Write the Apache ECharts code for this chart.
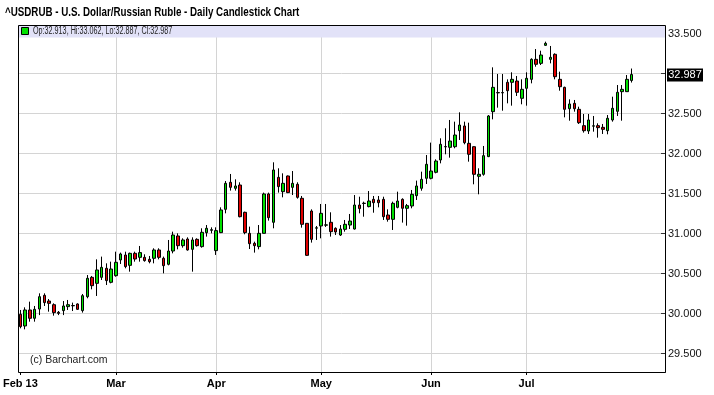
<!DOCTYPE html>
<html><head><meta charset="utf-8">
<script src="https://cdn.jsdelivr.net/npm/echarts@6/dist/echarts.min.js"></script>
<style>html,body{margin:0;padding:0;background:#fff}#c{width:714px;height:395px}</style>
</head><body><div id="c"></div>
<script>
const titleText = '^USDRUB - U.S. Dollar/Russian Ruble - Daily Candlestick Chart';
const monthLabels = ['Feb 13','Mar','Apr','May','Jun','Jul'];
const yTickValues = [29.5,30,30.5,31,31.5,32,32.5,33,33.5];

const openVals = [29.99,29.844,30.044,29.94,30.056,30.227,30.156,30.11,30.015,30.036,
30.086,30.096,30.119,30.036,30.21,30.452,30.377,30.452,30.565,30.39,
30.473,30.669,30.731,30.602,30.752,30.702,30.702,30.677,30.69,30.794,
30.69,30.615,30.781,30.969,30.848,30.931,30.802,30.927,30.836,31.01,
31.04,30.786,31.011,31.302,31.64,31.565,31.606,31.265,31.002,30.877,
30.836,31.002,31.494,31.14,31.702,31.523,31.719,31.577,31.615,31.44,
31.127,31.281,31.067,31.094,31.104,31.14,31.065,30.981,31.052,31.106,
31.056,31.356,31.375,31.336,31.427,31.419,31.427,31.231,31.177,31.327,
31.427,31.315,31.344,31.473,31.565,31.69,31.69,31.765,31.919,32.083,
32.077,32.085,32.285,32.344,32.127,32.085,31.715,31.74,31.961,32.523,
32.758,32.758,32.89,32.89,32.906,32.69,32.815,32.927,33.177,33.127,
33.352,33.177,33.24,32.927,32.827,32.56,32.627,32.552,32.348,32.281,
32.342,32.348,32.327,32.285,32.419,32.527,32.773,32.773,32.913];
const closeVals = [29.836,30.044,29.94,30.052,30.21,30.136,30.127,30.011,30.002,30.094,
30.11,30.1,30.052,30.223,30.44,30.348,30.544,30.577,30.411,30.556,
30.64,30.744,30.586,30.752,30.681,30.761,30.661,30.648,30.794,30.702,
30.598,30.781,30.981,30.848,30.919,30.794,30.919,30.848,31.015,31.065,
31.048,31.036,31.294,31.627,31.577,31.594,31.21,31.011,30.873,30.848,
31.002,31.494,31.198,31.794,31.586,31.627,31.511,31.627,31.452,31.115,
30.727,30.927,31.071,31.252,31.108,31.023,31.019,31.056,31.115,31.156,
31.356,31.311,31.379,31.406,31.385,31.385,31.21,31.177,31.377,31.406,
31.315,31.348,31.49,31.594,31.677,31.865,31.781,31.906,32.115,32.087,
32.156,32.231,32.356,32.135,31.99,31.74,31.74,31.973,32.469,32.827,
32.762,32.762,32.785,32.927,32.765,32.802,32.94,33.177,33.115,33.231,
33.377,33.202,32.96,32.835,32.552,32.619,32.56,32.385,32.285,32.419,
32.346,32.323,32.302,32.44,32.565,32.765,32.802,32.927,32.987];
const lowVals = [29.815,29.802,29.898,29.898,29.98,30.094,30.023,29.973,29.98,29.98,
30.044,30.031,30.044,30.011,30.19,30.302,30.219,30.419,30.356,30.377,
30.46,30.619,30.565,30.523,30.648,30.648,30.648,30.627,30.627,30.677,
30.502,30.602,30.752,30.802,30.823,30.786,30.523,30.836,30.823,30.961,
31.002,30.732,31.005,31.252,31.536,31.536,31.202,30.99,30.806,30.761,
30.802,31.0,31.161,31.065,31.511,31.452,31.505,31.481,31.436,31.073,
30.72,30.886,30.919,30.94,31.082,30.961,30.981,30.969,31.023,31.056,
31.05,31.252,31.21,31.327,31.26,31.327,31.169,31.148,31.044,31.315,
31.136,31.098,31.315,31.419,31.535,31.619,31.677,31.752,31.877,31.99,
31.948,32.065,32.169,32.115,31.898,31.615,31.49,31.723,31.955,32.427,
32.573,32.535,32.627,32.598,32.719,32.615,32.598,32.877,33.085,33.106,
33.344,33.127,32.927,32.785,32.452,32.41,32.523,32.369,32.261,32.244,
32.273,32.198,32.244,32.24,32.398,32.469,32.41,32.77,32.887];
const highVals = [30.044,30.077,30.148,30.094,30.252,30.252,30.181,30.127,30.031,30.156,
30.169,30.136,30.127,30.244,30.481,30.469,30.677,30.711,30.627,30.648,
30.773,30.761,30.773,30.761,30.773,30.844,30.74,30.719,30.815,30.815,
30.711,30.919,31.023,31.002,30.94,30.952,30.952,30.94,31.065,31.106,
31.077,31.077,31.327,31.656,31.744,31.677,31.64,31.273,31.086,30.898,
31.106,31.511,31.511,31.89,31.815,31.752,31.725,31.781,31.64,31.469,
31.13,31.302,31.094,31.369,31.369,31.265,31.077,31.106,31.169,31.244,
31.481,31.46,31.398,31.531,31.469,31.469,31.46,31.302,31.398,31.523,
31.44,31.369,31.544,31.661,31.773,31.981,32.136,31.927,32.19,32.315,
32.419,32.398,32.515,32.398,32.385,32.09,31.815,32.094,32.481,33.077,
32.994,32.994,32.927,33.015,32.969,32.927,33.015,33.19,33.306,33.285,
33.398,33.344,33.252,33.023,32.835,32.677,32.669,32.585,32.494,32.494,
32.469,32.377,32.369,32.481,32.71,32.856,32.856,32.981,33.062];

// trading days (weekdays) Feb 1 - Jul 31 2013
const categories = [];
for (let d = new Date(Date.UTC(2013,1,1)); d <= new Date(Date.UTC(2013,6,31)); d.setUTCDate(d.getUTCDate()+1)) {
  const w = d.getUTCDay();
  if (w !== 0 && w !== 6) categories.push(d.toISOString().slice(0,10));
}
const axisCats = categories.slice();
for (let k = 1; k <= 136 - categories.length; k++) axisCats.push('pad' + k);

const monthStart = {};
let mi = 0;
categories.forEach((c, i) => {
  const m = c.slice(0,7);
  if (i === 0 || m !== categories[i-1].slice(0,7)) { monthStart[i] = monthLabels[mi++]; }
});
const isMonth = (i) => monthStart[i] !== undefined;

const seriesData = categories.map((c, i) => [openVals[i], closeVals[i], lowVals[i], highVals[i]]);

const FONT = "'Liberation Sans',Arial,sans-serif";
const L = 18, T = 25, W = 647, H = 347;
const px = 80; // px per unit
const yMin = 29.5 - (T + H - 33.5 - 320) / px;
const yMax = 33.5 + (33.5 - T) / px;

const chart = echarts.init(document.getElementById('c'));
chart.setOption({
  animation: false,
  backgroundColor: '#fff',
  grid: [
    {left: L, top: T, width: W, height: H, show: false},
    {left: L, top: 33.5, width: W, height: 320, show: false}
  ],
  xAxis: [
    {type: 'category', gridIndex: 0, data: axisCats, boundaryGap: false,
     axisLine: {show: true, lineStyle: {color: '#000', width: 1}},
     axisTick: {show: true, interval: (i) => isMonth(i), length: 3, lineStyle: {color: '#000'}},
     axisLabel: {interval: (i) => isMonth(i), formatter: (v, i) => monthStart[i] || '',
       color: '#000', fontWeight: 'bold', fontSize: 11, fontFamily: FONT, margin: 6},
     splitLine: {show: true, interval: (i) => isMonth(i) && i > 0, lineStyle: {color: '#d4d4d4', width: 1}}},
    {type: 'category', gridIndex: 1, data: axisCats, boundaryGap: false, show: false}
  ],
  yAxis: [
    {type: 'value', gridIndex: 0, min: yMin, max: yMax, show: false, splitLine: {show: false}},
    {type: 'value', gridIndex: 1, min: 29.5, max: 33.5, interval: 0.5, position: 'right',
     axisLine: {show: false},
     axisTick: {show: true, inside: true, length: 4, lineStyle: {color: '#333'}},
     axisLabel: {formatter: (v) => v.toFixed(3), color: '#111', fontSize: 11, fontFamily: FONT, margin: 3},
     splitLine: {show: true, lineStyle: {color: '#d4d4d4', width: 1}}}
  ],
  series: [{
    type: 'candlestick', xAxisIndex: 0, yAxisIndex: 0, data: seriesData,
    barWidth: 3,
    itemStyle: {color: '#00e000', color0: '#e00000', borderColor: '#000', borderColor0: '#000', borderColorDoji: '#000', borderWidth: 1}
  }]
});

const lastClose = closeVals[closeVals.length - 1];
const lastY = chart.convertToPixel({yAxisIndex: 1}, lastClose);
const n = openVals.length - 1;
const legendText = 'Op:' + openVals[n].toFixed(3) + ', Hi:' + highVals[n].toFixed(3) + ', Lo:' + lowVals[n].toFixed(3) + ', Cl:' + closeVals[n].toFixed(3);

chart.setOption({
  graphic: [
    {type: 'rect', silent: true, z: 100, shape: {x: L, y: T, width: W, height: 12.5}, style: {fill: '#e2e2f8'}},
    {type: 'rect', silent: true, z: 101, shape: {x: L + 0.5, y: T + 0.5, width: W, height: H}, style: {fill: null, stroke: '#000', lineWidth: 1}},
    {type: 'rect', silent: true, z: 102, shape: {x: 21.5, y: 27.5, width: 7, height: 7}, style: {fill: '#00e000', stroke: '#000', lineWidth: 1}},
    {type: 'text', silent: true, z: 102, x: 33, y: 31.5, scaleX: 0.72, style: {text: legendText, fontSize: 10, fontFamily: FONT, fill: '#222', verticalAlign: 'middle', align: 'left'}},
    {type: 'text', silent: true, z: 102, x: 5, y: 12.5, scaleX: 0.815, style: {text: titleText, fontSize: 12, fontWeight: 'bold', fontFamily: FONT, fill: '#000', verticalAlign: 'middle', align: 'left'}},
    {type: 'text', silent: true, z: 102, x: 30, y: 360.5, style: {text: '(c) Barchart.com', fontSize: 10.5, fontFamily: FONT, fill: '#222', verticalAlign: 'middle', align: 'left'}},
    {type: 'rect', silent: true, z: 102, shape: {x: 667, y: Math.round(lastY) - 6.5, width: 36, height: 13}, style: {fill: '#000'}},
    {type: 'text', silent: true, z: 103, x: 685, y: Math.round(lastY), style: {text: lastClose.toFixed(3), fontSize: 11, fontFamily: FONT, fill: '#fff', verticalAlign: 'middle', align: 'center'}}
  ]
});
</script></body></html>
